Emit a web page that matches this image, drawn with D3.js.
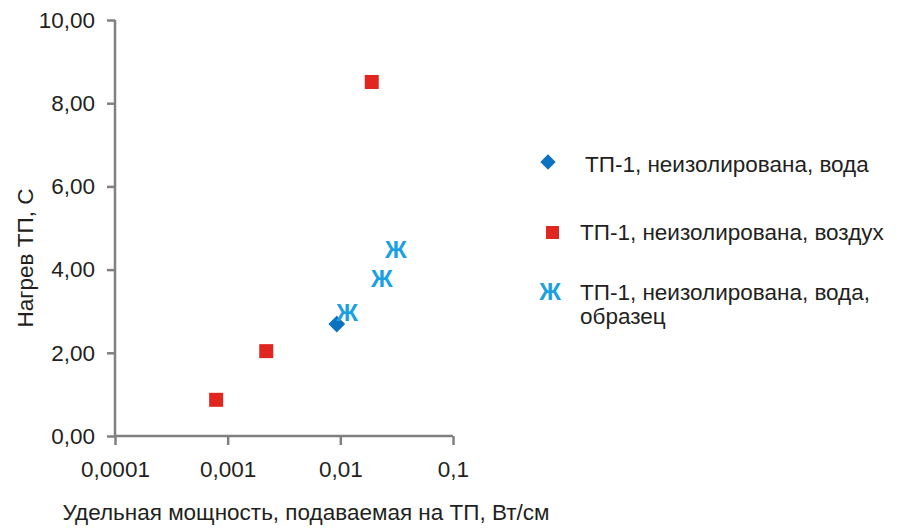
<!DOCTYPE html>
<html>
<head>
<meta charset="utf-8">
<script src="https://cdnjs.cloudflare.com/ajax/libs/d3/7.8.5/d3.min.js"></script>
<style>
  body { margin: 0; background: #fff; }
  text { font-family: "Liberation Sans", Arial, sans-serif; fill: #231f20; }
</style>
</head>
<body>
<div id="chart"></div>
<script>
// data
var waterX = [0.0093];
var waterY = [2.69];
var airX = [0.00079, 0.0022, 0.019];
var airY = [0.87, 2.04, 8.51];
var sampleX = [0.0115, 0.0234, 0.0311];
var sampleY = [2.95, 3.77, 4.47];

var xTicks = [0.0001, 0.001, 0.01, 0.1];
var xTickLabels = ["0,0001", "0,001", "0,01", "0,1"];
var yTicks = [0, 2, 4, 6, 8, 10];
var legendLabels = ["ТП-1, неизолирована, вода", "ТП-1, неизолирована, воздух", "ТП-1, неизолирована, вода,", "образец"];

var width = 897, height = 532;
var axisColor = "#808080";
var fs = 22.5;

var svg = d3.select("#chart").append("svg")
    .attr("width", width).attr("height", height);

var x = d3.scaleLog().domain([0.0001, 0.1]).range([115, 453]);
var y = d3.scaleLinear().domain([0, 10]).range([436, 20]);

// y axis
var yAxis = svg.append("g").attr("transform", "translate(115,0)")
    .call(d3.axisLeft(y).tickValues(yTicks).tickSize(8).tickPadding(12)
        .tickFormat(function(d){ return d3.format(".2f")(d).replace(".", ","); }));
// x axis
var xAxis = svg.append("g").attr("transform", "translate(0,436)")
    .call(d3.axisBottom(x).tickValues(xTicks).tickSize(9).tickPadding(16)
        .tickFormat(function(d, i){ return xTickLabels[i]; }));

[yAxis, xAxis].forEach(function(g){
    g.select(".domain").attr("stroke", axisColor).attr("stroke-width", 2.5);
    g.selectAll(".tick line").attr("stroke", axisColor).attr("stroke-width", 2.5);
    g.selectAll(".tick text").attr("font-size", fs).attr("fill", "#231f20")
        .style("font-family", "'Liberation Sans', Arial, sans-serif");
});
// domain path without outer ticks
yAxis.select(".domain").attr("d", "M0," + y(10) + "V" + y(0));
xAxis.select(".domain").attr("d", "M" + x(0.0001) + ",0H" + x(0.1));

// axis titles
svg.append("text")
    .attr("transform", "translate(33,258) rotate(-90)")
    .attr("text-anchor", "middle").attr("font-size", fs)
    .text("Нагрев ТП, С");
svg.append("text")
    .attr("x", 306).attr("y", 520)
    .attr("text-anchor", "middle").attr("font-size", fs)
    .text("Удельная мощность, подаваемая на ТП, Вт/см");

// series: air (red squares)
svg.selectAll(".air").data(airX).enter().append("rect")
    .attr("class", "air")
    .attr("x", function(d){ return x(d) - 7; })
    .attr("y", function(d, i){ return y(airY[i]) - 7; })
    .attr("width", 14).attr("height", 14)
    .attr("fill", "#e0261e");

// series: water (blue diamond)
svg.selectAll(".water").data(waterX).enter().append("path")
    .attr("class", "water")
    .attr("transform", function(d, i){ return "translate(" + x(d) + "," + y(waterY[i]) + ")"; })
    .attr("d", d3.symbol().type(d3.symbolDiamond2).size(180))
    .attr("fill", "#0b72bf");

// series: sample (Ж glyph)
svg.selectAll(".sample").data(sampleX).enter().append("text")
    .attr("class", "sample")
    .attr("x", function(d){ return x(d); })
    .attr("y", function(d, i){ return y(sampleY[i]) + 8; })
    .attr("text-anchor", "middle")
    .attr("font-size", 24).attr("font-weight", "bold")
    .style("fill", "#1ba1e2")
    .text("Ж");

// legend
var lg = svg.append("g");
lg.append("path")
    .attr("transform", "translate(548,162)")
    .attr("d", d3.symbol().type(d3.symbolDiamond2).size(150))
    .attr("fill", "#0b72bf");
lg.append("text").attr("x", 585).attr("y", 172).attr("font-size", fs).text(legendLabels[0]);

lg.append("rect").attr("x", 546).attr("y", 226).attr("width", 13).attr("height", 13).attr("fill", "#e0261e");
lg.append("text").attr("x", 580).attr("y", 240).attr("font-size", fs).text(legendLabels[1]);

lg.append("text").attr("x", 550).attr("y", 300).attr("text-anchor", "middle")
    .attr("font-size", 24).attr("font-weight", "bold").style("fill", "#1ba1e2").text("Ж");
lg.append("text").attr("x", 580).attr("y", 300).attr("font-size", fs).text(legendLabels[2]);
lg.append("text").attr("x", 580).attr("y", 324).attr("font-size", fs).text(legendLabels[3]);
</script>
</body>
</html>
